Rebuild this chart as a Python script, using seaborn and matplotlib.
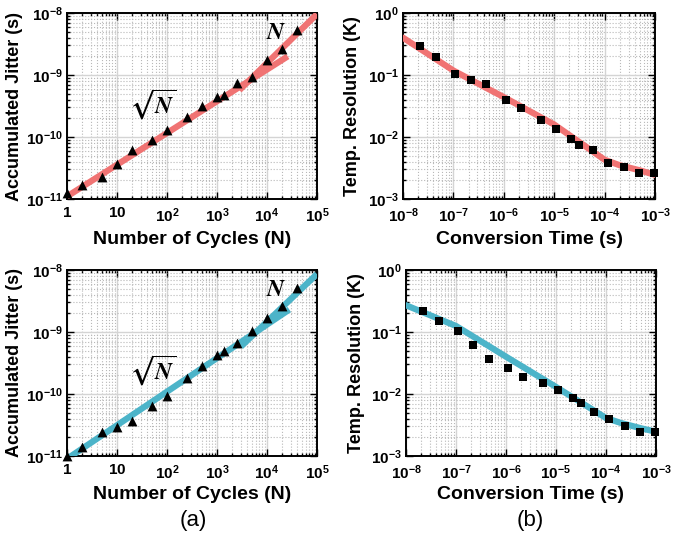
import numpy as np
import pandas as pd
import matplotlib
matplotlib.use('Agg')
import matplotlib.pyplot as plt
import matplotlib.ticker as mticker
import seaborn as sns

# ---- data ----
cycles = [1, 2, 5, 10, 20, 50, 100, 250, 500, 1000, 1400, 2500, 5000, 10000, 20000, 40000]
jitter_top = [1.25e-11, 1.7e-11, 2.25e-11, 3.7e-11, 6.2e-11, 9.1e-11, 1.32e-10, 2.1e-10,
              3.2e-10, 4.4e-10, 4.7e-10, 7.5e-10, 9.3e-10, 1.73e-9, 2.67e-9, 5.4e-9]
jitter_bot = [1.0e-11, 1.4e-11, 2.4e-11, 2.9e-11, 3.6e-11, 6.3e-11, 9.3e-11, 1.78e-10,
              2.8e-10, 4.2e-10, 5.0e-10, 6.7e-10, 1.05e-9, 1.66e-9, 2.6e-9, 5.2e-9]

# fitted lines (sqrt(N) region and N region)
sqrt_n_top = [1, 2.6e4]
sqrt_j_top = [1.1e-11, 2.0e-9]
lin_n_top = [2800, 1e5]
lin_j_top = [5.7e-10, 9.6e-9]
sqrt_n_bot = [1, 2.8e4]
sqrt_j_bot = [9.0e-12, 2.3e-9]
lin_n_bot = [3000, 1e5]
lin_j_bot = [5.8e-10, 8.6e-9]

conv_time = [2.2e-8, 4.5e-8, 1.1e-7, 2.2e-7, 4.5e-7, 1.1e-6, 2.2e-6, 5.5e-6,
             1.1e-5, 2.2e-5, 3.1e-5, 5.8e-5, 1.17e-4, 2.45e-4, 4.85e-4, 9.7e-4]
res_top = [0.295, 0.196, 0.104, 0.083, 0.072, 0.040, 0.029, 0.019,
           0.0135, 0.0093, 0.0073, 0.0062, 0.0038, 0.0033, 0.0026, 0.0026]
res_bot = [0.22, 0.152, 0.102, 0.062, 0.037, 0.026, 0.019, 0.0148,
           0.0116, 0.0085, 0.0072, 0.0051, 0.0040, 0.0030, 0.0024, 0.0024]

fit_time = [1e-8, 1e-7, 1e-6, 1e-5, 1e-4, 2e-4, 5e-4, 1e-3]
fit_res_top = [0.40, 0.118, 0.044, 0.0159, 0.0043, 0.0035, 0.0029, 0.00245]
fit_res_bot = [0.27, 0.125, 0.040, 0.0130, 0.0041, 0.0034, 0.0028, 0.00246]

RED = '#f07373'
BLUE = '#4cb4c9'

sns.set_style('ticks')
plt.rcParams['font.family'] = ['Liberation Sans', 'DejaVu Sans']
plt.rcParams['font.weight'] = 'bold'
plt.rcParams['text.color'] = 'black'
plt.rcParams['axes.labelcolor'] = 'black'
plt.rcParams['xtick.color'] = 'black'
plt.rcParams['ytick.color'] = 'black'
plt.rcParams['mathtext.fontset'] = 'custom'
plt.rcParams['mathtext.rm'] = 'Liberation Sans:bold'
plt.rcParams['mathtext.it'] = 'Liberation Sans:bold'
plt.rcParams['mathtext.bf'] = 'Liberation Sans:bold'
plt.rcParams['mathtext.default'] = 'rm'

fig = plt.figure(figsize=(6.78, 5.34), dpi=100)
ax_tl = fig.add_axes([0.0988, 0.6273, 0.3687, 0.3483])
ax_tr = fig.add_axes([0.5944, 0.6273, 0.3717, 0.3483])
ax_bl = fig.add_axes([0.0988, 0.1461, 0.3687, 0.3483])
ax_br = fig.add_axes([0.5988, 0.1461, 0.3687, 0.3483])


def style_axes(ax, xlim, ylim, xlabel, ylabel, plain_small, ylab_x, xlab_y):
    ax.set_xscale('log')
    ax.set_yscale('log')
    ax.set_xlim(*xlim)
    ax.set_ylim(*ylim)
    ax.grid(True, which='major', color='#d4d4d4', linestyle='-', linewidth=1.0)
    ax.grid(True, which='minor', color='#b8b8b8', linestyle=':', linewidth=0.8)
    ax.xaxis.set_minor_locator(mticker.LogLocator(base=10, subs=np.arange(2, 10), numticks=20))
    ax.yaxis.set_minor_locator(mticker.LogLocator(base=10, subs=np.arange(2, 10), numticks=20))
    ax.xaxis.set_major_locator(mticker.LogLocator(base=10, numticks=20))
    ax.yaxis.set_major_locator(mticker.LogLocator(base=10, numticks=20))

    def xf(v, pos):
        e = int(round(np.log10(v)))
        if plain_small and e == 0:
            return r'$1$'
        if plain_small and e == 1:
            return r'$10$'
        return r'$10^{%d}$' % e

    def yf(v, pos):
        e = int(round(np.log10(v)))
        return r'$10^{%d}$' % e

    ax.xaxis.set_major_formatter(mticker.FuncFormatter(xf))
    ax.yaxis.set_major_formatter(mticker.FuncFormatter(yf))
    ax.tick_params(which='both', direction='in', top=True, right=True,
                   labelsize=11, width=1.0)
    ax.tick_params(which='major', length=5)
    ax.tick_params(axis='x', which='major', pad=5)
    ax.tick_params(axis='y', which='major', pad=3)
    ax.tick_params(which='minor', length=2.5)
    for s in ax.spines.values():
        s.set_linewidth(1.4)
        s.set_color('black')
    ax.set_xlabel(xlabel, fontsize=14, fontweight='bold')
    ax.set_ylabel(ylabel, fontsize=13, fontweight='bold')
    ax.yaxis.set_label_coords(ylab_x, 0.5)
    ax.xaxis.set_label_coords(0.5, xlab_y)
    ax.set_axisbelow(True)


def jitter_panel(ax, jit, sn, sj, ln, lj, color, xlab_y):
    sns.lineplot(x=sn, y=sj, ax=ax, color=color, linewidth=4.5, solid_capstyle='butt', zorder=3)
    sns.lineplot(x=ln, y=lj, ax=ax, color=color, linewidth=4.5, solid_capstyle='butt', zorder=3)
    sns.scatterplot(x=cycles, y=jit, ax=ax, marker='^', color='black', s=50,
                    edgecolor='black', linewidth=0, zorder=4, clip_on=False)
    style_axes(ax, (1, 1e5), (1e-11, 1e-8), 'Number of Cycles (N)',
               'Accumulated Jitter (s)', True, -0.175, xlab_y)


def res_panel(ax, res, fit, color, xlab_y):
    sns.lineplot(x=fit_time, y=fit, ax=ax, color=color, linewidth=4.5, zorder=3)
    sns.scatterplot(x=conv_time, y=res, ax=ax, marker='s', color='black', s=32,
                    edgecolor='black', linewidth=0, zorder=4, clip_on=False)
    style_axes(ax, (1e-8, 1e-3), (1e-3, 1e0), 'Conversion Time (s)',
               'Temp. Resolution (K)', False, -0.165, xlab_y)


jitter_panel(ax_tl, jitter_top, sqrt_n_top, sqrt_j_top, lin_n_top, lin_j_top, RED, -0.17)
jitter_panel(ax_bl, jitter_bot, sqrt_n_bot, sqrt_j_bot, lin_n_bot, lin_j_bot, BLUE, -0.16)
res_panel(ax_tr, res_top, fit_res_top, RED, -0.17)
res_panel(ax_br, res_bot, fit_res_bot, BLUE, -0.16)

for ax, yn, ys in [(ax_tl, 4.9e-9, 3.4e-10), (ax_bl, 4.8e-9, 2.45e-10)]:
    ax.text(1.5e4, yn, r'$\mathbfit{N}$', math_fontfamily='stix', fontsize=17,
            ha='center', va='center', zorder=5)
    ax.text(52, ys, r'$\sqrt{\mathbfit{N}}$', math_fontfamily='stix', fontsize=17,
            ha='center', va='center', zorder=5)

fig.text(0.285, 0.025, '(a)', fontsize=16, fontweight='normal', ha='center', va='center')
fig.text(0.782, 0.025, '(b)', fontsize=16, fontweight='normal', ha='center', va='center')

fig.savefig('out.png', dpi=100)
